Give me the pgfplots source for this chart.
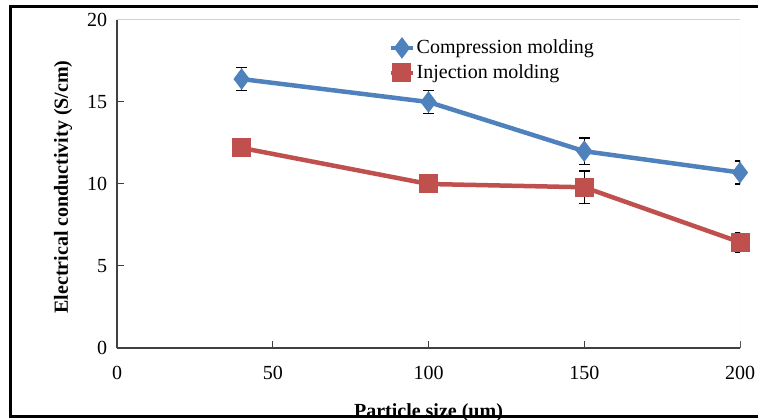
\documentclass[border=0pt]{standalone}
\usepackage{fontspec}
\setmainfont{Liberation Serif}
\usepackage{pgfplots}
\pgfplotsset{compat=1.18}

\definecolor{cblue}{HTML}{4F81BD}
\definecolor{cred}{HTML}{C0504D}

\begin{document}
\fontsize{20bp}{24bp}\selectfont
\begin{tikzpicture}
\useasboundingbox (0,0) rectangle (758bp,420bp);
\begin{axis}[
  at={(117bp,72bp)}, anchor=south west,
  scale only axis, width=623bp, height=328bp,
  xmin=0, xmax=200, ymin=0, ymax=20,
  xtick={0,50,...,200}, ytick={0,5,...,20},
  axis lines*=left,
  axis line style={black!75, line width=1.2bp},
  tick align=inside,
  major tick length=7bp,
  tick style={black!75, line width=1bp},
  /pgf/number format/assume math mode=true,
  xticklabel style={yshift=-11bp},
  yticklabel style={xshift=-3bp},
  xlabel={\textbf{Particle size (um)}},
  ylabel={\textbf{Electrical conductivity (S/cm)}},
  xlabel style={at={(rel axis cs:0.5,0)}, anchor=base, yshift=-69bp},
  ylabel style={at={(rel axis cs:0,0.5)}, anchor=center, yshift=54bp, xshift=-3bp},
  legend style={at={(rel axis cs:0.431,0.952)}, anchor=north west,
    draw=none, fill=none, row sep=5bp,
    nodes={inner sep=1.5bp, anchor=west}},
  legend cell align=left,
  legend image code/.code={
    \draw[mark repeat=2,mark phase=2,#1] plot coordinates {(0bp,0bp) (11bp,0bp) (22bp,0bp)};},
  ebar/.style={draw=none, mark=none, forget plot,
    error bars/.cd, y dir=both, y explicit,
    error bar style={black, line width=1.4bp},
    error mark options={black, rotate=90, mark size=5.5bp, line width=1.4bp}},
]
\draw[black!18, line width=1bp] (rel axis cs:0,1) -- (rel axis cs:1,1);
\draw[black!6, line width=1bp] (rel axis cs:1,0) -- (rel axis cs:1,1);

% error bars first so the markers sit on top
\addplot[ebar] coordinates {
    (40,16.4) +- (0,0.7)
    (100,15.0) +- (0,0.7)
    (150,12.0) +- (0,0.8)
    (200,10.7) +- (0,0.7)
  };
\addplot[ebar] coordinates {
    (40,12.2) +- (0,0.3)
    (100,10.0) +- (0,0.4)
    (150,9.8) +- (0,1.0)
    (200,6.45) +- (0,0.6)
  };

\addplot[cblue, line width=4.5bp, mark=diamond*,
  mark options={solid, fill=cblue, draw=cblue, line width=1bp, mark size=10bp}]
  coordinates {(40,16.4) (100,15.0) (150,12.0) (200,10.7)};
\addlegendentry{Compression molding}

\addplot[cred, line width=4.5bp, mark=square*,
  mark options={solid, fill=cred, draw=cred, line width=1bp, mark size=9bp}]
  coordinates {(40,12.2) (100,10.0) (150,9.8) (200,6.45)};
\addlegendentry{Injection molding}
\end{axis}
\draw[black, line width=3bp] (10bp,3bp) rectangle (790bp,413bp);
\end{tikzpicture}
\end{document}
